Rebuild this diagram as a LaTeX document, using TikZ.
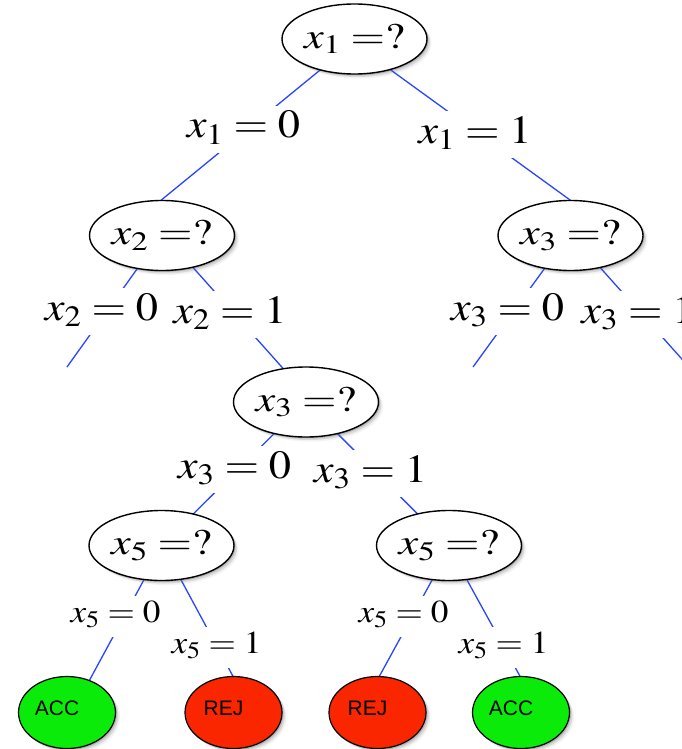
\documentclass[tikz,border=0pt]{standalone}
\usepackage{graphicx}
\usepackage{mathptmx}
\usepackage[no-math]{fontspec}
\newfontfamily\leaffont{Liberation Sans}
\usetikzlibrary{shapes.geometric,shadows,backgrounds,calc}
\definecolor{edgeblue}{RGB}{40,70,255}
\definecolor{accgreen}{RGB}{10,235,10}
\definecolor{rejred}{RGB}{250,38,0}
\newcommand\qtxt[1]{\scalebox{1.23}[1]{$#1$}}
\newcommand\blab[1]{\scalebox{1.11}[1]{$#1$}\rule[-9.5pt]{0pt}{9.5pt}}
\newcommand\slabtxt[1]{\scalebox{1.1}[1]{$#1$}\rule[-9.5pt]{0pt}{9.5pt}}
\tikzset{
  myshadow/.style={
    drop shadow={shadow xshift=1.5pt,shadow yshift=-1.5pt,opacity=0.30,fill=black!60},
    drop shadow={shadow xshift=3pt,shadow yshift=-3pt,opacity=0.18,fill=black!60},
    drop shadow={shadow xshift=4.5pt,shadow yshift=-4.5pt,opacity=0.08,fill=black!60}},
  qnode/.style={ellipse, draw=black, line width=1.4pt, fill=white,
    minimum width=145pt, minimum height=70pt, inner sep=0pt,
    font=\fontsize{36}{40}\selectfont, myshadow},
  leafnode/.style={ellipse, draw=black, line width=1.2pt,
    minimum width=97pt, minimum height=72pt, inner sep=0pt, myshadow},
  accnode/.style={leafnode, fill=accgreen},
  rejnode/.style={leafnode, fill=rejred},
  leaftxt/.style={inner sep=0pt, font=\leaffont\fontsize{21}{24}\selectfont},
  lab/.style={fill=white, inner xsep=5pt, inner ysep=5pt, anchor=base,
    font=\fontsize{40}{44}\selectfont},
  slab/.style={lab, font=\fontsize{32}{36}\selectfont},
  conn/.style={draw=edgeblue, line width=1.3pt},
}
\begin{document}
\begin{tikzpicture}[x=1pt,y=-1pt]
\useasboundingbox (0,0) rectangle (682,749);
% decision nodes
\node[qnode] (root) at (354.5,39) {\qtxt{x_1=?}};
\node[qnode] (x2) at (162,235.5) {\qtxt{x_2=?}};
\node[qnode] (x3r) at (570.5,235.5) {\qtxt{x_3=?}};
\node[qnode] (x3m) at (306,402) {\qtxt{x_3=?}};
\node[qnode] (x5l) at (161.5,545.5) {\qtxt{x_5=?}};
\node[qnode] (x5r) at (449,545.5) {\qtxt{x_5=?}};
% leaves
\node[accnode] (acc1) at (67,712.5) {};
\node[rejnode] (rej1) at (233.5,712.5) {};
\node[rejnode] (rej2) at (377.5,712.5) {};
\node[accnode] (acc2) at (521,712.5) {};
\node[leaftxt] (acc1t) at ($(acc1)+(-10,-4)$) {ACC};
\node[leaftxt] (rej1t) at ($(rej1)+(-10,-4)$) {REJ};
\node[leaftxt] (rej2t) at ($(rej2)+(-10,-4)$) {REJ};
\node[leaftxt] (acc2t) at ($(acc2)+(-10,-4)$) {ACC};
% free ends
\coordinate (f1) at (67,367);
\coordinate (f2) at (473,367);
\coordinate (f3) at (689,367);
% edge labels
\node[lab] (l1) at (243.5,138) {\blab{x_1=0}};
\node[lab] (l2) at (475,143) {\blab{x_1=1}};
\node[lab] (l3) at (101.5,320) {\blab{x_2=0}};
\node[lab] (l4) at (230,323) {\blab{x_2=1}};
\node[lab] (l5) at (507.5,320) {\blab{x_3=0}};
\node[lab] (l6) at (638,323) {\blab{x_3=1}};
\node[lab] (l7) at (234.5,478) {\blab{x_3=0}};
\node[lab] (l8) at (370.5,482) {\blab{x_3=1}};
\node[slab] (l9) at (115.5,622) {\slabtxt{x_5=0}};
\node[slab] (l10) at (216.5,653) {\slabtxt{x_5=1}};
\node[slab] (l11) at (403.5,622) {\slabtxt{x_5=0}};
\node[slab] (l12) at (503.5,653) {\slabtxt{x_5=1}};
\begin{scope}[on background layer]
\fill[white] (0,0) rectangle (682,749);
\draw[conn] ($(root)+(3.5,0)$) -- ($(x2)+(-44,0)$);
\draw[conn] ($(root)+(-6.5,0)$) -- ($(x3r)+(48.5,0)$);
\draw[conn] ($(x2)+(-1,0)$) -- (f1);
\draw[conn] ($(x2)+(2.5,0)$) -- ($(x3m)+(7,0)$);
\draw[conn] ($(x3r)+(-2,0)$) -- (f2);
\draw[conn] ($(x3r)+(1,0)$) -- (f3);
\draw[conn] (x3m.center) -- (x5l.center);
\draw[conn] (x3m.center) -- (x5r.center);
\draw[conn] ($(x5l)+(1,0)$) -- ($(acc1)+(5,0)$);
\draw[conn] ($(x5l)+(1,0)$) -- ($(rej1)+(19,0)$);
\draw[conn] ($(x5r)+(2,0)$) -- ($(rej2)+(-18,0)$);
\draw[conn] ($(x5r)+(-1,0)$) -- ($(acc2)+(19,0)$);
\end{scope}
\end{tikzpicture}
\end{document}
